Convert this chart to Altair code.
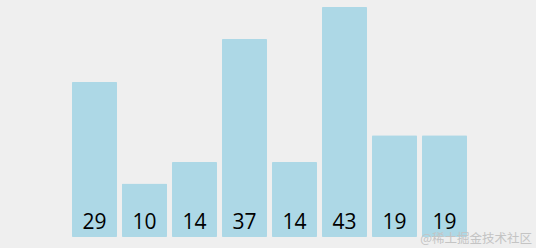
import altair as alt
import pandas as pd

categories = ["0", "1", "2", "3", "4", "5", "6", "7"]
values = [29, 10, 14, 37, 14, 43, 19, 19]
watermark = "@稀土掘金技术社区"

df = pd.DataFrame({"i": categories, "v": values})

base = alt.Chart(df)

xenc = alt.X("i:N", sort=None, axis=None,
             scale=alt.Scale(paddingInner=0.1, paddingOuter=0))

bars = base.mark_bar(color="#add8e6", cornerRadius=1).encode(
    x=xenc,
    y=alt.Y("v:Q", axis=None, scale=alt.Scale(domain=[0, 43], nice=False)),
)

labels = base.mark_text(
    baseline="alphabetic", dy=-8, fontSize=21, color="#000000",
    font="Open Sans",
).encode(
    x=xenc,
    y=alt.datum(0),
    text="v:Q",
)

wm = alt.Chart(pd.DataFrame({"t": [watermark]})).mark_text(
    align="right", baseline="alphabetic", fontSize=12.5, color="#c4c4c4",
    font="Noto Sans CJK SC",
).encode(
    x=alt.value(460), y=alt.value(236), text="t:N"
)

chart = alt.layer(bars, labels, wm).properties(
    width=395, height=230,
    background="#efefef",
    padding={"left": 72, "top": 7, "right": 69, "bottom": 11},
    autosize=alt.AutoSizeParams(type="none"),
).configure_view(stroke=None)

chart.save("out.html", embed_options={"renderer": "svg", "actions": False})
